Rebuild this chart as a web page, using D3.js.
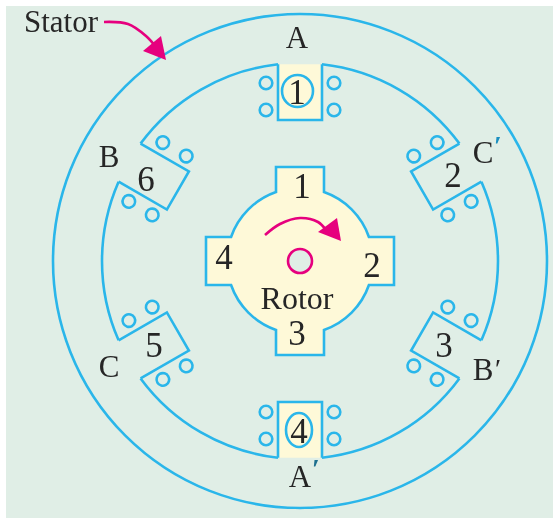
<!DOCTYPE html>
<html><head><meta charset="utf-8">
<script src="https://cdn.jsdelivr.net/npm/d3@7/dist/d3.min.js"></script>
<style>html,body{margin:0;padding:0;background:#fff}svg{display:block}
text{font-family:"Liberation Serif","Times New Roman",serif;fill:#262626;text-anchor:middle}</style>
</head><body><svg id="c" width="553" height="518"></svg>
<script>
// ---- data ----
const poleAngles = [0, 60, 120, 180, 240, 300];
const poleNames = ["1", "2", "3", "4", "5", "6"];
const rotorAngles = [0, 90, 180, 270];
const rotorNames = ["1", "2", "3", "4"];
const phaseLabels = ["A", "C", "B", "A", "C", "B"];
const highlightedPoles = [0, 180];
const coilRadials = [178, 151];
const coilOffset = 34;
const statorOuter = 247, statorInner = 198, poleFace = 141, poleHalf = 22;
const rotorBody = 73, rotorTip = 94, rotorTabHalf = 24, shaft = 12;

// ---- layout ----
const W = 553, H = 518, cx = 300, cy = 261;
const BG = "#e0eee6", CREAM = "#fef9d8", BLUE = "#2bb6ea", PINK = "#e6007e";
const r = d3.scaleLinear().domain([0, 247]).range([0, 247]);
const rad = d => (d - 90) * Math.PI / 180;
const svg = d3.select("#c");
const path = () => d3.path();

svg.append("rect").attr("x", 6).attr("y", 6).attr("width", W - 6).attr("height", H - 6).attr("fill", BG);

const soft = svg.append("defs").append("filter").attr("id", "soft")
  .attr("x", 0).attr("y", 0).attr("width", W).attr("height", H).attr("filterUnits", "userSpaceOnUse");
soft.append("feGaussianBlur").attr("stdDeviation", 0.45);
const art = svg.append("g").attr("filter", "url(#soft)");

const g = art.append("g").attr("transform", `translate(${cx},${cy})`)
  .attr("fill", "none").attr("stroke", BLUE).attr("stroke-width", 2.6);

// stator outer
g.append("circle").attr("r", r(statorOuter));

// stator inner outline with poles
const halfAngle = Math.asin(poleHalf / statorInner) * 180 / Math.PI;
g.selectAll("path.seg").data(poleAngles).join("path").attr("class", "seg")
  .attr("d", a => {
    const p = path();
    p.arc(0, 0, r(statorInner), rad(a + halfAngle), rad(a + 60 - halfAngle));
    return p.toString();
  });
const poleG = g.selectAll("g.pole").data(poleAngles).join("g").attr("class", "pole")
  .attr("transform", a => `rotate(${a})`);
const ringY = -Math.sqrt(statorInner * statorInner - poleHalf * poleHalf);
poleG.append("path")
  .attr("fill", a => highlightedPoles.includes(a) ? CREAM : "none")
  .attr("d", () => {
    const p = path();
    p.moveTo(r(-poleHalf), r(ringY));
    p.lineTo(r(-poleHalf), r(-poleFace));
    p.lineTo(r(poleHalf), r(-poleFace));
    p.lineTo(r(poleHalf), r(ringY));
    return p.toString();
  });
poleG.selectAll("circle").data(d3.cross([-1, 1], coilRadials)).join("circle")
  .attr("cx", d => r(d[0] * coilOffset)).attr("cy", d => r(-d[1])).attr("r", 6.3);

// rotor
g.append("path").attr("fill", CREAM).attr("d", () => {
  const p = path();
  const sh = Math.sqrt(rotorBody * rotorBody - rotorTabHalf * rotorTabHalf);
  const da = Math.asin(rotorTabHalf / rotorBody) * 180 / Math.PI;
  rotorAngles.forEach((a, i) => {
    const t = a * Math.PI / 180, c = Math.cos(t), s = Math.sin(t);
    const P = (x, y) => [x * c - y * s, x * s + y * c];
    const pts = [P(-rotorTabHalf, -sh), P(-rotorTabHalf, -rotorTip), P(rotorTabHalf, -rotorTip), P(rotorTabHalf, -sh)];
    pts.forEach((q, j) => (i === 0 && j === 0) ? p.moveTo(q[0], q[1]) : p.lineTo(q[0], q[1]));
    p.arc(0, 0, rotorBody, rad(a + da), rad(a + 90 - da));
  });
  p.closePath();
  return p.toString();
});

// circled pole marks
g.append("ellipse").attr("cx", -2.5).attr("cy", -170).attr("rx", 15.5).attr("ry", 16);
g.append("ellipse").attr("cx", -1).attr("cy", 169).attr("rx", 13).attr("ry", 17);

// shaft
g.append("circle").attr("r", r(shaft)).attr("fill", BG).attr("stroke", PINK);

// arrows
const curve = d3.line().curve(d3.curveCatmullRom);
const tri = d3.line().curve(d3.curveLinearClosed);
const arrowLines = [
  [[104, 22], [128, 24], [146, 36], [156, 47]],
  [[265, 235], [280, 224], [300, 218], [318, 222], [326, 230]]
];
const arrowHeads = [
  [[166, 60], [161, 36], [143, 51]],
  [[341, 241], [337, 218], [318, 232]]
];
art.selectAll("path.al").data(arrowLines).join("path").attr("class", "al")
  .attr("d", curve).attr("fill", "none").attr("stroke", PINK).attr("stroke-width", 2.6);
art.selectAll("path.ah").data(arrowHeads).join("path").attr("class", "ah")
  .attr("d", tri).attr("fill", PINK);

// text
const LETTER = 31, DIGIT = 35;
function put(t, x, y, size) {
  return art.append("text").attr("x", x).attr("y", y).attr("font-size", size).text(t);
}
put("Stator", 61, 32, 31);
put("Rotor", 297, 309, 32);
const polePos = [[297, 104], [453, 187], [444, 357], [299, 443], [154, 357], [146, 191]];
polePos.forEach((q, i) => put(poleNames[i], q[0], q[1], DIGIT));
const rotorPos = [[302, 198], [372, 277], [297, 345], [224, 269]];
rotorPos.forEach((q, i) => put(rotorNames[i], q[0], q[1], DIGIT));
const phasePos = [[297, 48], [483, 163], [483, 380], [300, 487], [109, 377], [109, 167]];
phasePos.forEach((q, i) => put(phaseLabels[i], q[0], q[1], LETTER));
const primePos = [[498, 155, "#1a8fc0", "bold"], [498, 378, "#262626", "normal"], [316, 478, "#1f6f8f", "bold"]];
primePos.forEach(q => put("\u2032", q[0], q[1], 28).style("fill", q[2]).attr("font-weight", q[3]));
</script></body></html>
